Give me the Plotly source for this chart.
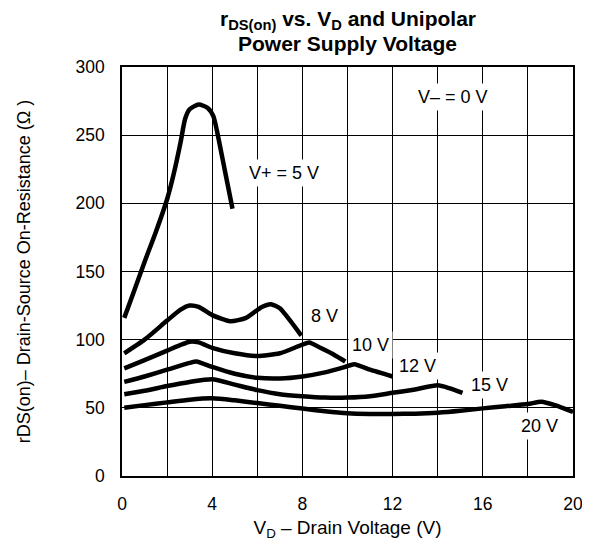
import plotly.graph_objects as go

# V+ = 5 V
vd_5 = [0.1, 0.5, 1.0, 1.5, 2.0, 2.3, 2.6, 2.8, 3.0, 3.4, 3.8, 4.05, 4.2, 4.55, 4.9]
r_5 = [116, 134, 157, 179, 203, 222, 245, 262, 269, 272.5, 270, 264, 254, 225, 196]

# V+ = 8 V
vd_8 = [0.1, 1.0, 2.0, 2.6, 3.0, 3.4, 4.0, 4.8, 5.5, 6.2, 6.6, 7.0, 7.5, 7.95]
r_8 = [90, 100, 114, 122, 125, 124, 118, 113.5, 116, 124, 126, 123, 113, 103]

# V+ = 10 V
vd_10 = [0.1, 1.0, 2.0, 3.0, 3.4, 4.0, 5.0, 6.0, 7.0, 7.8, 8.3, 8.8, 9.4, 9.9]
r_10 = [79, 85, 92, 98.5, 98, 94, 90, 88, 90, 95, 98, 94, 89, 84]

# V+ = 12 V
vd_12 = [0.1, 1.0, 2.0, 3.0, 3.3, 4.0, 5.0, 6.0, 7.0, 8.0, 9.0, 9.9, 10.3, 11.0, 12.0]
r_12 = [69, 73, 78, 83, 84, 80, 75, 72, 71.5, 73, 76, 80, 82, 78, 73]

# V+ = 15 V
vd_15 = [0.1, 1.0, 2.0, 3.0, 4.0, 5.0, 6.0, 7.0, 8.0, 9.0, 10.0, 11.0, 12.0, 13.0, 14.0, 14.5, 15.1]
r_15 = [60, 62.5, 66, 69, 71, 67, 63, 60, 58.5, 57.5, 57.5, 58.5, 61, 63.5, 66.5, 64.5, 61]

# V+ = 20 V
vd_20 = [0.1, 1.0, 2.0, 3.0, 4.0, 5.0, 6.0, 7.0, 8.0, 9.0, 10.0, 11.0, 12.0, 13.0, 14.0, 15.0, 16.0, 17.0, 18.0, 18.6, 19.2, 20.0]
r_20 = [50, 52, 54, 56, 57, 55.5, 53.5, 51.5, 49.5, 47.5, 46, 45.5, 45.5, 45.7, 46.4, 47.8, 49.6, 51.2, 52.8, 54.5, 52, 47]

series = [
    ("V+ = 5 V", vd_5, r_5),
    ("8 V", vd_8, r_8),
    ("10 V", vd_10, r_10),
    ("12 V", vd_12, r_12),
    ("15 V", vd_15, r_15),
    ("20 V", vd_20, r_20),
]

# curve labels: (text, x, y)
labels = [
    ("V+ = 5 V", 7.2, 222),
    ("8 V", 9.0, 117),
    ("10 V", 11.0, 96),
    ("12 V", 13.1, 81),
    ("15 V", 16.3, 67),
    ("20 V", 18.5, 37),
    ("V\u2013 = 0 V", 14.7, 278),
]

x_ticks = [0, 4, 8, 12, 16, 20]

FONT = "Liberation Sans, Arial, Helvetica, sans-serif"

fig = go.Figure()
for name, xs, ys in series:
    fig.add_trace(go.Scatter(
        x=xs, y=ys, mode="lines", name=name,
        line=dict(color="black", width=4.5, shape="spline", smoothing=0.6),
        showlegend=False, hoverinfo="skip",
    ))

for text, x, y in labels:
    fig.add_annotation(
        x=x, y=y, xref="x", yref="y", text=text, showarrow=False,
        font=dict(family=FONT, size=18, color="black"),
        bgcolor="white", borderpad=3,
    )

# title lines
fig.add_annotation(
    x=0.5, y=1.115, xref="paper", yref="paper", showarrow=False,
    text="<b>r<sub>DS(on)</sub> vs. V<sub>D</sub> and Unipolar</b>",
    font=dict(family=FONT, size=21, color="black"), yanchor="middle",
)
fig.add_annotation(
    x=0.5, y=1.058, xref="paper", yref="paper", showarrow=False,
    text="<b>Power Supply Voltage</b>",
    font=dict(family=FONT, size=21, color="black"), yanchor="middle",
)

fig.update_layout(
    width=582, height=534,
    margin=dict(l=114, r=17, t=59, b=66),
    paper_bgcolor="white", plot_bgcolor="white",
    font=dict(family=FONT, size=17.5, color="black"),
    xaxis=dict(
        range=[0, 20], tickvals=x_ticks,
        showgrid=True, gridcolor="black", gridwidth=1,
        minor=dict(dtick=2, tick0=0, showgrid=True, gridcolor="black", gridwidth=1),
        showline=True, linecolor="black", linewidth=1.5, mirror=True,
        zeroline=False, ticks="", ticklabelstandoff=11,
        ticklabeloverflow="allow",
        title=dict(text="V<sub>D</sub> \u2013 Drain Voltage (V)", font=dict(size=19), standoff=8),
        automargin=False,
    ),
    yaxis=dict(
        range=[0, 300], dtick=50, tick0=0,
        showgrid=True, gridcolor="black", gridwidth=1,
        showline=True, linecolor="black", linewidth=1.5, mirror=True,
        zeroline=False, ticks="", ticklabelstandoff=12,
        ticklabeloverflow="allow",
        title=dict(text="rDS(on)\u2013 Drain-Source On-Resistance (\u03a9 )", font=dict(size=18), standoff=40),
        automargin=False,
    ),
)

fig.write_html("out.html")
